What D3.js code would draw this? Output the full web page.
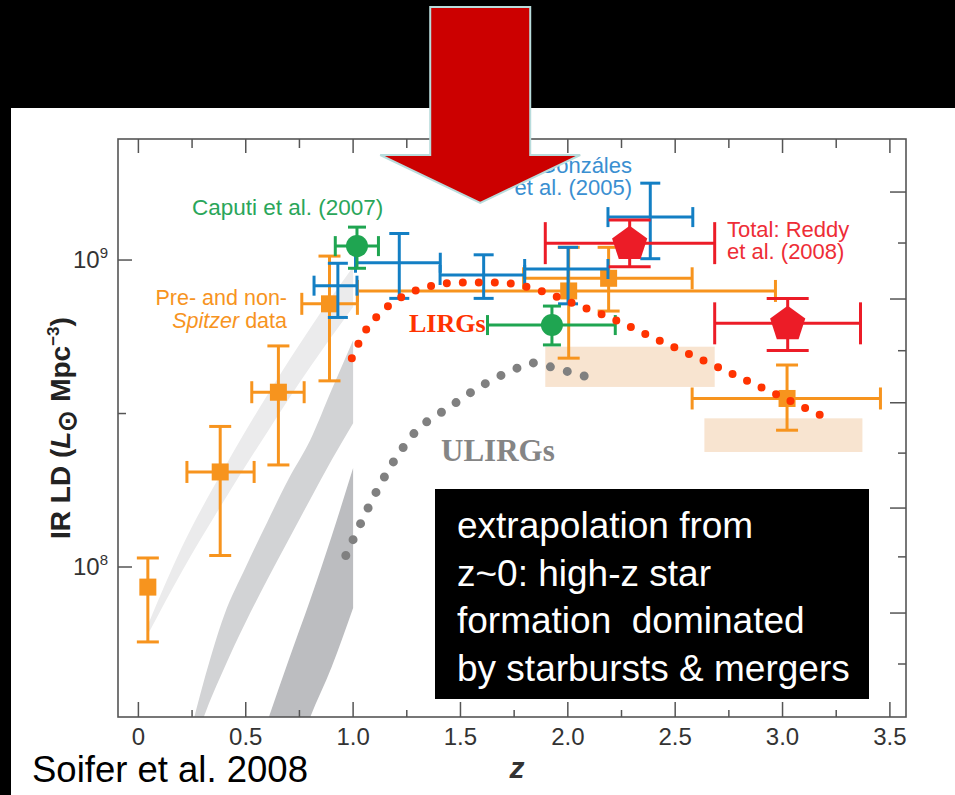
<!DOCTYPE html>
<html>
<head>
<meta charset="utf-8">
<script src="https://cdn.jsdelivr.net/npm/d3@7"></script>
<style>
  body { margin: 0; background: #000; }
  svg { display: block; }
</style>
</head>
<body>
<div id="chart"></div>
<script>
// ---- data ----
const xTicks = [0, 0.25, 0.5, 0.75, 1, 1.25, 1.5, 1.75, 2, 2.25, 2.5, 2.75, 3, 3.25, 3.5];
const xTickLabels = ["0", "", "0.5", "", "1.0", "", "1.5", "", "2.0", "", "2.5", "", "3.0", "", "3.5"];
const yMajorTicks = [1e8, 1e9];
const yMajorExp = ["8", "9"];
const yMinorTicks = [3.162e8];
// unlabeled ticks on the right side, log10 of the IR LD where they sit
const rightTickLogs = [9.2215, 9.0554, 8.873, 8.7046, 8.535, 8.371, 8.192, 8.033, 7.85, 7.684];

// Pre- and non-Spitzer data (orange squares)
const orangeZ = [0.044, 0.381, 0.652, 0.89, 2.004, 2.19, 3.021];
const orangeZLo = [null, 0.226, 0.528, 0.761, 1.02, 1.794, 2.579];
const orangeZHi = [null, 0.539, 0.772, 1.02, 2.967, 2.579, 3.456];
const orangeLD = [8.6e7, 2.04e8, 3.71e8, 7.2e8, 7.93e8, 8.72e8, 3.54e8];
const orangeLDLo = [5.7e7, 1.09e8, 2.15e8, 4.04e8, 4.79e8, 6.82e8, 2.79e8];
const orangeLDHi = [1.07e8, 2.87e8, 5.25e8, 1.03e9, 1.1e9, 1.1e9, 4.55e8];

// Perez-Gonzales et al. (2005) (blue crosses)
const blueZ = [0.929, 1.215, 1.608, 2.001, 2.384];
const blueZLo = [0.818, 1.011, 1.405, 1.799, 2.187];
const blueZHi = [1.018, 1.406, 1.799, 2.187, 2.582];
const blueLD = [8.25e8, 9.8e8, 8.94e8, 9.35e8, 1.38e9];
const blueLDLo = [6.5e8, 7.5e8, 7.5e8, 7.2e8, 1.01e9];
const blueLDHi = [9.76e8, 1.22e9, 1.04e9, 1.1e9, 1.78e9];

// Caputi et al. (2007) (green circles)
const greenZ = [1.018, 1.926];
const greenZLo = [0.917, 1.626];
const greenZHi = [1.118, 2.221];
const greenLD = [1.11e9, 6.14e8];
const greenLDLo = [9.4e8, 5.29e8];
const greenLDHi = [1.28e9, 7.08e8];

// Total: Reddy et al. (2008) (red pentagons)
const redZ = [2.288, 3.024];
const redZLo = [1.895, 2.684];
const redZHi = [2.684, 3.363];
const redLD = [1.135e9, 6.22e8];
const redLDLo = [9.5e8, 5.07e8];
const redLDHi = [1.35e9, 7.5e8];

// beige boxes
const boxZLo = [1.895, 2.636];
const boxZHi = [2.684, 3.372];
const boxLDLo = [3.86e8, 2.37e8];
const boxLDHi = [5.22e8, 3.05e8];

// LIRGs dotted curve
const lirgZ = [0.994, 1.06, 1.16, 1.286, 1.432, 1.58, 1.729, 1.875, 2.012, 2.221, 2.423, 2.628, 2.83, 3.034, 3.175];
const lirgLD = [4.79e8, 5.92e8, 7.05e8, 7.93e8, 8.39e8, 8.45e8, 8.39e8, 7.93e8, 7.28e8, 6.38e8, 5.48e8, 4.72e8, 4.06e8, 3.48e8, 3.13e8];

// ULIRGs dotted curve
const ulirgZ = [0.966, 1.038, 1.114, 1.204, 1.309, 1.452, 1.597, 1.752, 1.835, 1.918, 2.001, 2.086];
const ulirgLD = [1.09e8, 1.40e8, 1.79e8, 2.29e8, 2.84e8, 3.33e8, 3.89e8, 4.41e8, 4.62e8, 4.49e8, 4.33e8, 4.17e8];

// grey model bands
const bandLightZ = [0.05, 0.2, 0.4, 0.6, 0.8, 1.0];
const bandLightHi = [6.62e7, 1.15e8, 2.1e8, 3.63e8, 6.0e8, 9.5e8];
const bandLightLo = [6.14e7, 9.6e7, 1.65e8, 2.75e8, 4.48e8, 7.03e8];
const bandMidZ = [0.2, 0.3, 0.4, 0.5, 0.6, 0.7, 0.8, 0.9, 1.0];
const bandMidHi = [2.18e7, 4.13e7, 6.98e7, 1.0e8, 1.40e8, 1.94e8, 2.59e8, 3.78e8, 5.48e8];
const bandMidLo = [1.88e7, 3.18e7, 4.69e7, 6.62e7, 9.08e7, 1.23e8, 1.66e8, 2.23e8, 2.94e8];
const bandDarkZ = [0.6, 0.7, 0.8, 0.9, 1.0];
const bandDarkHi = [3.13e7, 4.98e7, 7.81e7, 1.26e8, 2.10e8];
const bandDarkLo = [1.39e7, 2.10e7, 3.24e7, 4.72e7, 7.35e7];

const arrowZ = 1.592;

const theme = {
  orange: "#f7941e",
  blue: "#137fc4",
  green: "#1fa551",
  red: "#ec1c27",
  lirg: "#ff3300",
  ulirg: "#808080",
  frame: "#555",
  text: "#333",
};

// ---- layout ----
const width = 955, height = 795;
const plot = { left: 118, right: 906, top: 139, bottom: 717 };

const svg = d3.select("#chart").append("svg")
  .attr("width", width).attr("height", height)
  .style("font-family", "'Liberation Sans', Arial, Helvetica, sans-serif");

svg.append("rect").attr("width", width).attr("height", height).attr("fill", "#000");
svg.append("rect").attr("x", 11).attr("y", 108).attr("width", width - 11).attr("height", height - 108).attr("fill", "#fff");

const x = d3.scaleLinear().domain([-0.095, 3.575]).range([plot.left, plot.right]);
const y = d3.scaleLog().domain([3.246e7, 2.479e9]).range([plot.bottom, plot.top]);

svg.append("clipPath").attr("id", "plotClip")
  .append("rect").attr("x", plot.left).attr("y", plot.top)
  .attr("width", plot.right - plot.left).attr("height", plot.bottom - plot.top);

const g = svg.append("g").attr("clip-path", "url(#plotClip)");

// bands
const drawBand = (zs, lo, hi, fill) => {
  const area = d3.area()
    .x((d, i) => x(zs[i]))
    .y0((d, i) => y(lo[i]))
    .y1((d, i) => y(hi[i]))
    .curve(d3.curveMonotoneX);
  g.append("path").attr("d", area(zs)).attr("fill", fill);
};
drawBand(bandLightZ, bandLightLo, bandLightHi, "#ebebec");
drawBand(bandMidZ, bandMidLo, bandMidHi, "#d2d3d5");
drawBand(bandDarkZ, bandDarkLo, bandDarkHi, "#bcbdc0");

// beige boxes
boxZLo.forEach((z0, i) => {
  g.append("rect")
    .attr("x", x(z0)).attr("width", x(boxZHi[i]) - x(z0))
    .attr("y", y(boxLDHi[i])).attr("height", y(boxLDLo[i]) - y(boxLDHi[i]))
    .attr("fill", "#f8e4d0");
});

// dotted curves
const dotted = (zs, lds, color, w, gap) => {
  const line = d3.line()
    .x((d, i) => x(zs[i]))
    .y((d, i) => y(lds[i]))
    .curve(d3.curveCatmullRom.alpha(0.5));
  g.append("path").attr("d", line(zs))
    .attr("fill", "none").attr("stroke", color)
    .attr("stroke-width", w).attr("stroke-linecap", "round")
    .attr("stroke-dasharray", `0 ${gap}`);
};
dotted(ulirgZ, ulirgLD, theme.ulirg, 9, 17.5);

// error bars
const errorBars = (zs, zlo, zhi, ld, ldlo, ldhi, color, capV, capH) => {
  zs.forEach((z, i) => {
    const cx = x(z), cy = y(ld[i]);
    const grp = g.append("g").attr("stroke", color).attr("stroke-width", 3).attr("fill", "none");
    const yt = y(ldhi[i]), yb = y(ldlo[i]);
    grp.append("line").attr("x1", cx).attr("x2", cx).attr("y1", yt).attr("y2", yb);
    grp.append("line").attr("x1", cx - capV).attr("x2", cx + capV).attr("y1", yt).attr("y2", yt);
    grp.append("line").attr("x1", cx - capV).attr("x2", cx + capV).attr("y1", yb).attr("y2", yb);
    if (zlo[i] !== null) {
      const xl = x(zlo[i]), xr = x(zhi[i]);
      grp.append("line").attr("x1", xl).attr("x2", xr).attr("y1", cy).attr("y2", cy);
      grp.append("line").attr("x1", xl).attr("x2", xl).attr("y1", cy - capH).attr("y2", cy + capH);
      grp.append("line").attr("x1", xr).attr("x2", xr).attr("y1", cy - capH).attr("y2", cy + capH);
    }
  });
};

errorBars(orangeZ, orangeZLo, orangeZHi, orangeLD, orangeLDLo, orangeLDHi, theme.orange, 11, 11);
orangeZ.forEach((z, i) => {
  g.append("rect").attr("x", x(z) - 8.5).attr("y", y(orangeLD[i]) - 8.5)
    .attr("width", 17).attr("height", 17).attr("fill", theme.orange);
});

errorBars(blueZ, blueZLo, blueZHi, blueLD, blueLDLo, blueLDHi, theme.blue, 10, 10);

errorBars(greenZ, greenZLo, greenZHi, greenLD, greenLDLo, greenLDHi, theme.green, 9, 10);
greenZ.forEach((z, i) => {
  g.append("circle").attr("cx", x(z)).attr("cy", y(greenLD[i])).attr("r", 11).attr("fill", theme.green);
});

errorBars(redZ, redZLo, redZHi, redLD, redLDLo, redLDHi, theme.red, 21, 21);
const pentagon = (cx, cy, r) => {
  const pts = d3.range(5).map((k) => {
    const a = -Math.PI / 2 + (k * 2 * Math.PI) / 5;
    return [cx + r * Math.cos(a), cy + r * Math.sin(a)];
  });
  return "M" + pts.map((p) => p.join(",")).join("L") + "Z";
};
redZ.forEach((z, i) => {
  g.append("path").attr("d", pentagon(x(z), y(redLD[i]) + 1, 18.5)).attr("fill", theme.red);
});

dotted(lirgZ, lirgLD, theme.lirg, 8, 16);

// ---- labels ----
const label = (tx, ty, lines, opts) => {
  const t = svg.append("text")
    .attr("x", tx).attr("y", ty)
    .attr("fill", opts.fill)
    .attr("font-size", opts.size)
    .attr("text-anchor", opts.anchor || "start");
  if (opts.family) t.attr("font-family", opts.family);
  if (opts.weight) t.attr("font-weight", opts.weight);
  lines.forEach((ln, i) => {
    t.append("tspan").attr("x", tx).attr("dy", i === 0 ? 0 : opts.lh).text(ln);
  });
  return t;
};

label(192, 215, ["Caputi et al. (2007)"], { fill: "#2aa65a", size: 22.5 });
label(287, 305, ["Pre- and non-"], { fill: theme.orange, size: 21.5, anchor: "end" });
const sp = svg.append("text").attr("x", 287).attr("y", 328)
  .attr("fill", theme.orange).attr("font-size", 21.5).attr("text-anchor", "end");
sp.append("tspan").attr("font-style", "italic").text("Spitzer");
sp.append("tspan").text(" data");
label(632, 173, ["Pérez-Gonzáles", "et al. (2005)"], { fill: "#3a8fd1", size: 22, anchor: "end", lh: 22 });
label(727, 237, ["Total: Reddy", "et al. (2008)"], { fill: "#ee2d36", size: 22, lh: 22 });
label(409, 332, ["LIRGs"], { fill: theme.lirg, size: 26, weight: "bold", family: "'Liberation Serif', 'Times New Roman', serif" });
label(441, 461, ["ULIRGs"], { fill: "#858585", size: 31, weight: "bold", family: "'Liberation Serif', 'Times New Roman', serif" });

// black annotation box
svg.append("rect").attr("x", 435).attr("y", 489).attr("width", 434).attr("height", 210).attr("fill", "#000");
label(457, 538, ["extrapolation from", "z~0: high-z star", "formation  dominated", "by starbursts & mergers"],
  { fill: "#fff", size: 37, lh: 47.5 }).style("white-space", "pre");

// ---- frame and ticks ----
svg.append("rect")
  .attr("x", plot.left).attr("y", plot.top)
  .attr("width", plot.right - plot.left).attr("height", plot.bottom - plot.top)
  .attr("fill", "none").attr("stroke", theme.frame).attr("stroke-width", 1.6);

const ticks = svg.append("g").attr("stroke", theme.frame).attr("stroke-width", 1.5);
xTicks.forEach((v, i) => {
  const major = xTickLabels[i] !== "";
  const px = x(v);
  ticks.append("line").attr("x1", px).attr("x2", px)
    .attr("y1", plot.bottom).attr("y2", plot.bottom - (major ? 15 : 7));
  ticks.append("line").attr("x1", px).attr("x2", px)
    .attr("y1", plot.top).attr("y2", plot.top + (major ? 14 : 9));
  if (major) {
    svg.append("text").attr("x", px).attr("y", 745)
      .attr("text-anchor", "middle").attr("font-size", 24).attr("fill", theme.text)
      .text(xTickLabels[i]);
  }
});
yMajorTicks.forEach((v, i) => {
  const py = y(v);
  ticks.append("line").attr("x1", plot.left).attr("x2", plot.left + 14).attr("y1", py).attr("y2", py);
  const t = svg.append("text").attr("x", 108).attr("y", py + 8)
    .attr("text-anchor", "end").attr("font-size", 24).attr("fill", theme.text);
  t.append("tspan").text("10");
  t.append("tspan").attr("font-size", 15).attr("dy", -10).text(yMajorExp[i]);
});
yMinorTicks.forEach((v) => {
  const py = y(v);
  ticks.append("line").attr("x1", plot.left).attr("x2", plot.left + 8).attr("y1", py).attr("y2", py);
});
rightTickLogs.forEach((v, i) => {
  const py = y(Math.pow(10, v));
  ticks.append("line").attr("x1", plot.right).attr("x2", plot.right - (i % 2 === 0 ? 16 : 8))
    .attr("y1", py).attr("y2", py);
});

// axis titles
const yt = svg.append("text")
  .attr("transform", "translate(70,428) rotate(-90)")
  .attr("text-anchor", "middle").attr("font-size", 28).attr("font-weight", "bold").attr("fill", "#222");
yt.append("tspan").text("IR LD (");
yt.append("tspan").attr("font-style", "italic").text("L");
yt.append("tspan").attr("dy", 6).attr("font-size", 26).text("⊙");
yt.append("tspan").attr("dy", -6).text(" Mpc");
yt.append("tspan").attr("dy", -11).attr("font-size", 17).text("−3");
yt.append("tspan").attr("dy", 11).text(")");

svg.append("text").attr("x", 517).attr("y", 778)
  .attr("text-anchor", "middle").attr("font-size", 30)
  .attr("font-weight", "bold").attr("font-style", "italic").attr("fill", theme.text).text("z");

svg.append("text").attr("x", 32).attr("y", 782)
  .attr("font-size", 36.5).attr("fill", "#000").text("Soifer et al. 2008");

// big red arrow on top
const ax = x(arrowZ);
const arrowPts = [[ax - 50, 7], [ax + 50, 7], [ax + 50, 155], [ax + 100, 155], [ax, 203], [ax - 100, 155], [ax - 50, 155]];
svg.append("path")
  .attr("d", "M" + arrowPts.map((p) => p.join(",")).join("L") + "Z")
  .attr("fill", "#cc0000").attr("stroke", "#b8dcdc").attr("stroke-width", 2);
</script>
</body>
</html>
